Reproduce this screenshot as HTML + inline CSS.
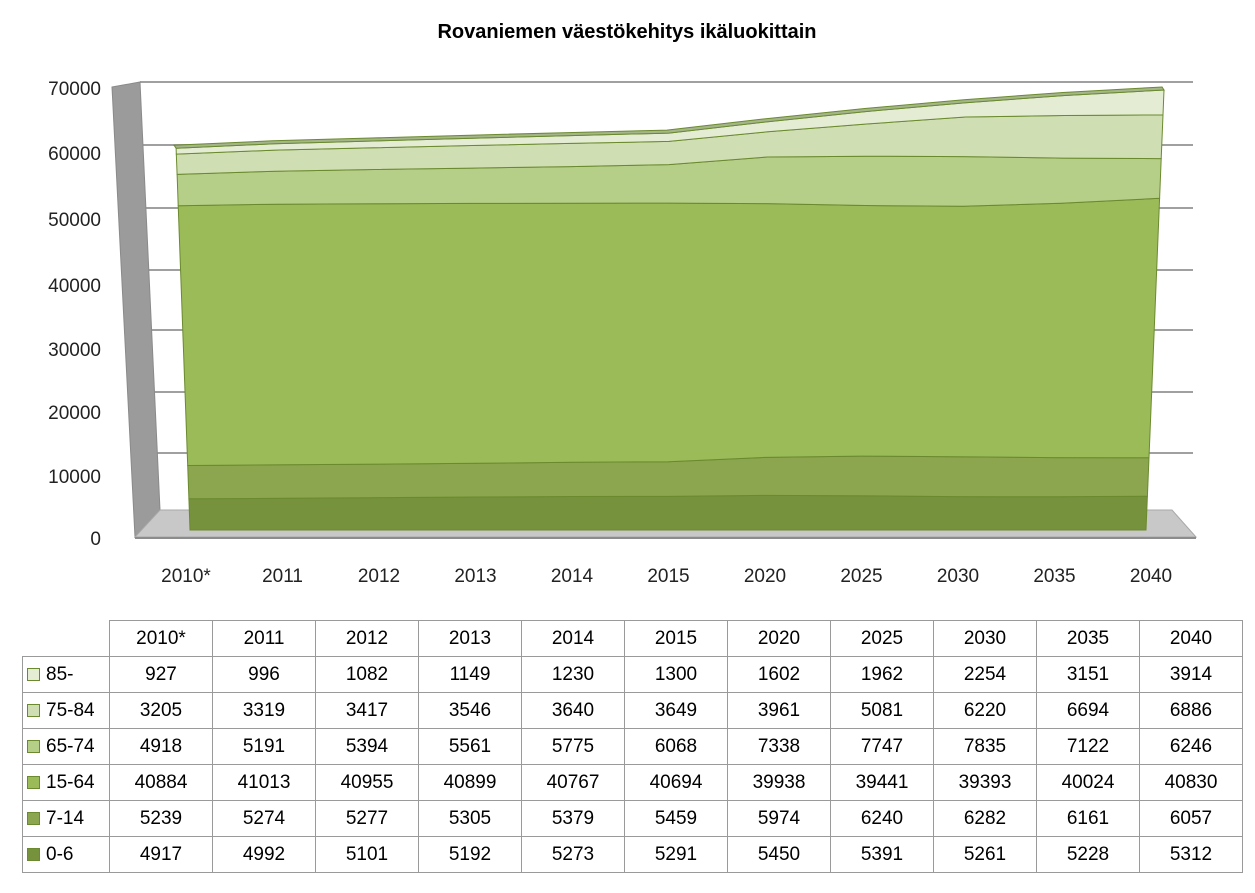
<!DOCTYPE html>
<html><head><meta charset="utf-8"><style>
body{margin:0;background:#fff;font-family:"Liberation Sans",sans-serif;}
#c{position:absolute;left:0;top:0;}
table{position:absolute;left:22px;top:620px;border-collapse:collapse;font-size:19px;}
td{border:1px solid #9a9a9a;height:35px;text-align:center;padding:0;width:102px;}
td.l{width:82px;text-align:left;padding-left:4px;}
td.e{border:none;border-right:1px solid #9a9a9a;border-bottom:1px solid #9a9a9a;}
.sw{display:inline-block;width:11px;height:11px;margin-right:6px;border:1px solid #6b8a2f;vertical-align:middle;}
</style></head><body>
<svg id="c" width="1255" height="893"></svg>
<table id="t"></table>
<script>
const categories=["2010*","2011","2012","2013","2014","2015","2020","2025","2030","2035","2040"];
const s0_6=[4917,4992,5101,5192,5273,5291,5450,5391,5261,5228,5312];
const s7_14=[5239,5274,5277,5305,5379,5459,5974,6240,6282,6161,6057];
const s15_64=[40884,41013,40955,40899,40767,40694,39938,39441,39393,40024,40830];
const s65_74=[4918,5191,5394,5561,5775,6068,7338,7747,7835,7122,6246];
const s75_84=[3205,3319,3417,3546,3640,3649,3961,5081,6220,6694,6886];
const s85=[927,996,1082,1149,1230,1300,1602,1962,2254,3151,3914];
const seriesNames=["0-6","7-14","15-64","65-74","75-84","85-"];
const series=[s0_6,s7_14,s15_64,s65_74,s75_84,s85];
const yTicks=[0,10000,20000,30000,40000,50000,60000,70000];
const colors=["#76923c","#8ba64e","#9bbb59","#b5ce88","#cfdeb3","#e4edd4"];
const NS="http://www.w3.org/2000/svg";
const svg=document.getElementById('c');
function mk(tag,attrs,name){const e=document.createElementNS(NS,tag);for(const k in attrs)e.setAttribute(k,attrs[k]);


svg.appendChild(e);return e;}
function yv(v){return 530-v*440/69245;}
function backY(v){return 510-v*(428/70000)*(1-0.0000006*v*0)+0;} 
function xAt(i,y){const xl=190+(y-530)*16/440,xr=1146-(y-530)*18/440;return xl+(xr-xl)*i/(categories.length-1);}
// title
const t=mk('text',{x:627,y:38,'text-anchor':'middle','font-size':20,'font-weight':'bold',fill:'#000'},'chart-title');t.textContent='Rovaniemen väestökehitys ikäluokittain';
// back gridlines
const gy=[510,453,392,330,270,208,145,82];
yTicks.forEach((v,k)=>{const y=gy[k];
 if(k>0)mk('line',{x1:140+20*(y-82)/428,y1:y,x2:1193,y2:y,stroke:'#a0a0a0','stroke-width':2},'gridline');
 const ly=[538,476,412,349,285,219,153,88][k];
 const l=mk('text',{x:101,y:ly+7,'text-anchor':'end','font-size':19,fill:'#222'},'y-tick-label');l.textContent=String(v);});
// left wall
mk('polygon',{points:'112,87 140,82 160,510 135,537',fill:'#9b9b9b',stroke:'#8a8a8a'},'left-wall');
mk('polygon',{points:'135,537 1196,537 1172,510 160,510',fill:'#c8c8c8',stroke:'#a8a8a8'},'floor');
mk('line',{x1:135,y1:538,x2:1196,y2:538,stroke:'#8c8c8c','stroke-width':2},'floor-edge');
// areas
let base=categories.map(()=>0);
series.forEach((s,si)=>{const top=base.map((b,i)=>b+s[i]);
 const pts=[];top.forEach((v,i)=>{const y=yv(v);pts.push(xAt(i,y).toFixed(1)+','+y.toFixed(1));});
 for(let i=categories.length-1;i>=0;i--){const y=yv(base[i]);pts.push(xAt(i,y).toFixed(1)+','+y.toFixed(1));}
 mk('polygon',{points:pts.join(' '),fill:colors[si],stroke:'#6b8a2f','stroke-width':1},'area-'+seriesNames[si]);
 if(si===series.length-1){const tp=[];top.forEach((v,i)=>{const y=yv(v);tp.push(xAt(i,y).toFixed(1)+','+y.toFixed(1));});
  for(let i=categories.length-1;i>=0;i--){const y=yv(top[i])-3;tp.push((xAt(i,y)-2).toFixed(1)+','+y.toFixed(1));}
  mk('polygon',{points:tp.join(' '),fill:'#a4b58a',stroke:'#6b8a2f','stroke-width':1},'area-top-face');}
 base=top;});
categories.forEach((c,i)=>{const l=mk('text',{x:186+i*96.5,y:582,'text-anchor':'middle','font-size':19,fill:'#222'},'x-tick-label');l.textContent=c;});
// table
const tb=document.getElementById('t');
let h='<tr><td class="l e"></td>'+categories.map(c=>'<td>'+c+'</td>').join('')+'</tr>';
for(let si=series.length-1;si>=0;si--){h+='<tr><td class="l"><span class="sw" style="background:'+colors[si]+'"></span>'+seriesNames[si]+'</td>'+series[si].map(v=>'<td>'+v+'</td>').join('')+'</tr>';}
tb.innerHTML=h;
</script>
</body></html>
